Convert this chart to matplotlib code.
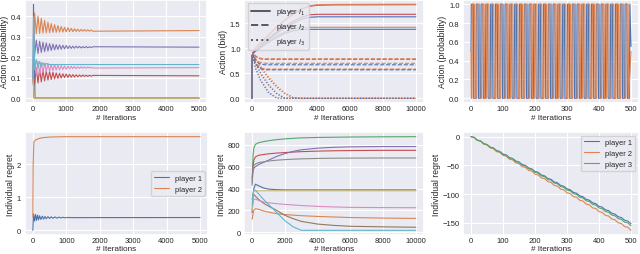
import matplotlib
matplotlib.use("Agg")
import matplotlib.pyplot as plt
import seaborn as sns

# ---- top-left: action probabilities (5000 iterations) ----
t_osc = [0, 50, 100, 150, 200, 250, 300, 350, 400, 450, 500, 550, 600, 650, 700,
         750, 800, 850, 900, 950, 1000, 1050, 1100, 1150, 1200, 1250, 1300, 1350,
         1400, 1450, 1500, 1550, 1600, 1650, 1700, 1750, 1800, 5000]
p_orange = [0.10, 0.417, 0.316, 0.402, 0.317, 0.391, 0.319, 0.381, 0.320, 0.372,
            0.321, 0.365, 0.322, 0.360, 0.323, 0.355, 0.324, 0.351, 0.324, 0.347,
            0.325, 0.345, 0.326, 0.342, 0.326, 0.340, 0.327, 0.338, 0.327, 0.337,
            0.328, 0.336, 0.328, 0.335, 0.328, 0.334, 0.328, 0.331]
p_purple = [0.10, 0.213, 0.284, 0.219, 0.279, 0.224, 0.274, 0.228, 0.271, 0.231,
            0.267, 0.234, 0.265, 0.237, 0.262, 0.239, 0.261, 0.240, 0.259, 0.242,
            0.258, 0.243, 0.256, 0.244, 0.255, 0.245, 0.255, 0.246, 0.254, 0.246,
            0.253, 0.247, 0.253, 0.247, 0.252, 0.248, 0.252, 0.250]
p_pink = [0.10, 0.187, 0.116, 0.181, 0.121, 0.176, 0.126, 0.172, 0.130, 0.169,
          0.133, 0.166, 0.135, 0.164, 0.138, 0.162, 0.139, 0.160, 0.141, 0.158,
          0.142, 0.157, 0.144, 0.156, 0.145, 0.155, 0.145, 0.154, 0.146, 0.154,
          0.147, 0.153, 0.147, 0.153, 0.148, 0.152, 0.148, 0.150]
p_red = [0.10, 0.069, 0.148, 0.075, 0.142, 0.080, 0.137, 0.085, 0.133, 0.089,
         0.130, 0.092, 0.127, 0.095, 0.124, 0.097, 0.122, 0.099, 0.120, 0.101,
         0.119, 0.102, 0.117, 0.103, 0.116, 0.104, 0.115, 0.105, 0.114, 0.106,
         0.114, 0.107, 0.113, 0.107, 0.113, 0.108, 0.112, 0.110]
t_blue1 = [0, 15, 60, 5000]
p_blue = [0.10, 0.46, 0.0, 0.0]
t_zero = [0, 40, 5000]
p_zero = [0.10, 0.0, 0.0]
t_cyan = [0, 20, 50, 100, 150, 200, 250, 300, 350, 400, 500, 5000]
p_cyan = [0.10, 0.40, 0.14, 0.19, 0.15, 0.18, 0.155, 0.173, 0.16, 0.17, 0.165, 0.165]

# ---- top-middle: bids ----
t_bid_s = [0, 1, 50, 200, 500, 1000, 1500, 2000, 2500, 3000, 3500, 4000, 5000, 10000]
bid_s = {
    "C3a": [0, 0.85, 0.92, 1.00, 1.10, 1.26, 1.42, 1.56, 1.68, 1.78, 1.84, 1.862, 1.868, 1.872],
    "C1a": [0, 0.85, 0.92, 1.00, 1.11, 1.27, 1.43, 1.57, 1.69, 1.79, 1.85, 1.872, 1.878, 1.882],
    "C3b": [0, 0.85, 0.90, 0.95, 1.05, 1.20, 1.33, 1.44, 1.54, 1.62, 1.67, 1.680, 1.680, 1.680],
    "C0b": [0, 0.85, 0.90, 0.95, 1.04, 1.18, 1.30, 1.41, 1.50, 1.58, 1.62, 1.630, 1.630, 1.630],
    "C1c": [0, 0.85, 0.90, 0.95, 1.03, 1.15, 1.25, 1.33, 1.39, 1.42, 1.42, 1.420, 1.420, 1.420],
    "C0c": [0, 0.85, 0.90, 0.94, 1.01, 1.12, 1.22, 1.30, 1.35, 1.38, 1.38, 1.380, 1.380, 1.380],
}
t_bid_d = [0, 1, 50, 100, 200, 400, 600, 800, 1000, 10000]
bid_d = {
    "C3a": [0, 0.85, 0.90, 0.88, 0.84, 0.80, 0.785, 0.78, 0.78, 0.78],
    "C1a": [0, 0.85, 0.90, 0.88, 0.85, 0.81, 0.795, 0.79, 0.79, 0.79],
    "C1b": [0, 0.85, 0.88, 0.85, 0.79, 0.73, 0.71, 0.70, 0.70, 0.70],
    "C0b": [0, 0.85, 0.88, 0.84, 0.77, 0.70, 0.68, 0.67, 0.67, 0.67],
    "C1c": [0, 0.85, 0.86, 0.80, 0.71, 0.63, 0.60, 0.59, 0.585, 0.585],
    "C0c": [0, 0.85, 0.86, 0.79, 0.70, 0.61, 0.58, 0.57, 0.57, 0.57],
}
t_bid_o = [0, 1, 50, 200, 500, 1000, 1500, 2000, 2500, 3000, 10000]
bid_o = {
    "C3a": [0, 0.85, 0.88, 0.78, 0.62, 0.40, 0.22, 0.09, 0.01, 0.0, 0.0],
    "C1a": [0, 0.85, 0.88, 0.80, 0.65, 0.43, 0.25, 0.11, 0.02, 0.0, 0.0],
    "C1b": [0, 0.85, 0.86, 0.72, 0.52, 0.28, 0.10, 0.01, 0.0, 0.0, 0.0],
    "C0b": [0, 0.85, 0.86, 0.70, 0.50, 0.26, 0.09, 0.0, 0.0, 0.0, 0.0],
    "C1c": [0, 0.85, 0.84, 0.62, 0.38, 0.13, 0.01, 0.0, 0.0, 0.0, 0.0],
    "C0c": [0, 0.85, 0.84, 0.60, 0.36, 0.11, 0.0, 0.0, 0.0, 0.0, 0.0],
}

# ---- top-right: cycling probabilities (flip times) ----
blue_flips = [7, 15, 22, 30, 37, 45, 52, 60, 67, 75, 82, 90, 97, 105, 112, 120, 127,
              135, 142, 150, 157, 165, 172, 180, 187, 195, 202, 210, 217, 225, 232,
              240, 247, 255, 262, 270, 277, 285, 292, 300, 307, 315, 322, 330, 337,
              345, 352, 360, 367, 375, 382, 390, 397, 405, 412, 420, 427, 435, 442,
              450, 457, 465, 472, 480, 487, 495]
orange_flips = [3, 11, 18, 26, 33, 41, 48, 56, 63, 71, 78, 86, 93, 101, 108, 116, 123,
                131, 138, 146, 153, 161, 168, 176, 183, 191, 198, 206, 213, 221, 228,
                236, 243, 251, 258, 266, 273, 281, 288, 296, 303, 311, 318, 326, 333,
                341, 348, 356, 363, 371, 378, 386, 393, 401, 408, 416, 423, 431, 438,
                446, 453, 461, 468, 476, 483, 491]

# ---- bottom-left: regret, 2 players ----
t_reg2_or = [0, 10, 30, 60, 100, 200, 300, 500, 1000, 5000]
reg2_orange = [0.40, 2.00, 2.68, 2.72, 2.75, 2.79, 2.81, 2.83, 2.84, 2.84]
t_reg2_bl = [0, 20, 50, 80, 110, 140, 170, 200, 240, 280, 320, 360, 400, 450, 500,
             550, 600, 660, 720, 780, 840, 900, 960, 1050, 1150, 5000]
reg2_blue = [0.0, 0.50, 0.28, 0.48, 0.30, 0.46, 0.32, 0.44, 0.33, 0.43, 0.34, 0.42,
             0.35, 0.415, 0.36, 0.41, 0.365, 0.405, 0.37, 0.40, 0.375, 0.395, 0.38,
             0.39, 0.385, 0.388]

# ---- bottom-middle: regret, 10 players ----
t_reg10 = [0, 50, 100, 200, 400, 700, 1000, 1500, 2000, 2500, 3000, 4000, 5000, 6000, 8000, 10000]
reg10 = [
    [180, 330, 400, 440, 425, 405, 395, 390, 388, 388, 388, 388, 388, 388, 388, 388],
    [120, 170, 200, 215, 210, 195, 185, 170, 162, 157, 152, 145, 140, 135, 130, 127],
    [450, 700, 770, 805, 820, 830, 838, 848, 855, 860, 864, 868, 870, 872, 874, 875],
    [500, 600, 660, 690, 705, 712, 718, 725, 730, 734, 738, 743, 746, 748, 750, 750],
    [480, 560, 585, 600, 620, 640, 660, 695, 720, 740, 755, 770, 778, 782, 785, 785],
    [300, 340, 345, 330, 300, 265, 240, 200, 155, 125, 100, 75, 63, 55, 50, 46],
    [200, 270, 300, 305, 290, 278, 270, 262, 255, 250, 245, 237, 232, 228, 226, 225],
    [430, 580, 610, 625, 638, 645, 652, 660, 665, 669, 672, 676, 678, 679, 680, 680],
    [200, 350, 375, 380, 380, 380, 380, 380, 380, 380, 380, 380, 380, 380, 380, 380],
    [250, 350, 390, 385, 350, 300, 255, 180, 106, 50, 18, 18, 18, 18, 18, 18],
]

# ---- bottom-right: regret, 3 players (every 10 iterations) ----
t_reg3 = [0, 10, 20, 30, 40, 50, 60, 70, 80, 90, 100, 110, 120, 130, 140, 150, 160,
          170, 180, 190, 200, 210, 220, 230, 240, 250, 260, 270, 280, 290, 300, 310,
          320, 330, 340, 350, 360, 370, 380, 390, 400, 410, 420, 430, 440, 450, 460,
          470, 480, 490, 500]
reg3_blue = [0, -1.5, -6.1, -7.6, -12.1, -13.7, -18.2, -19.7, -24.2, -25.8, -30.3,
             -31.8, -36.4, -37.9, -42.4, -44.0, -48.5, -50.0, -54.5, -56.1, -60.6,
             -62.1, -66.7, -68.2, -72.7, -74.3, -78.8, -80.3, -84.8, -86.4, -90.9,
             -92.4, -97.0, -98.5, -103.0, -104.6, -109.1, -110.6, -115.1, -116.7,
             -121.2, -122.7, -127.3, -128.8, -133.3, -134.9, -139.4, -140.9, -145.4,
             -147.0, -151.5]
reg3_orange = [0, -1.3, -6.5, -7.8, -13.0, -14.3, -19.6, -20.8, -26.1, -27.3, -32.6,
               -33.9, -39.1, -40.4, -45.6, -46.9, -52.2, -53.4, -58.7, -59.9, -65.2,
               -66.5, -71.7, -73.0, -78.2, -79.5, -84.8, -86.0, -91.3, -92.5, -97.8,
               -99.1, -104.3, -105.6, -110.8, -112.1, -117.4, -118.6, -123.9, -125.1,
               -130.4, -131.7, -136.9, -138.2, -143.4, -144.7, -150.0, -151.2, -156.5,
               -157.7, -163.0]
reg3_green = [0, -1.3, -6.2, -7.5, -12.4, -13.7, -18.6, -19.9, -24.8, -26.1, -31.0,
              -32.3, -37.2, -38.5, -43.4, -44.7, -49.6, -50.9, -55.8, -57.1, -62.0,
              -63.3, -68.2, -69.5, -74.4, -75.7, -80.6, -81.9, -86.8, -88.1, -93.0,
              -94.3, -99.2, -100.5, -105.4, -106.7, -111.6, -112.9, -117.8, -119.1,
              -124.0, -125.3, -130.2, -131.5, -136.4, -137.7, -142.6, -143.9, -148.8,
              -150.1, -155.0]


def square_path(start_level, flips, t_end, end_value):
    xs, ys = [0, 1], [0.5, start_level]
    level = start_level
    for f in flips:
        xs += [f, f + 1.5]
        ys += [level, 1 - level]
        level = 1 - level
    xs.append(t_end)
    ys.append(end_value)
    return xs, ys


sns.set_theme(style="darkgrid", palette="deep")
plt.rcParams["font.family"] = ["Liberation Sans", "DejaVu Sans"]
plt.rcParams["xtick.labelsize"] = 5.5
plt.rcParams["ytick.labelsize"] = 5.5
plt.rcParams["axes.labelsize"] = 5.9
plt.rcParams["legend.fontsize"] = 5.4
for a in ("xtick", "ytick"):
    plt.rcParams[a + ".major.size"] = 0
    plt.rcParams[a + ".minor.size"] = 0
plt.rcParams["xtick.major.pad"] = 1.5
plt.rcParams["ytick.major.pad"] = 2.5
plt.rcParams["axes.labelpad"] = 1.2
plt.rcParams["grid.linewidth"] = 0.8

pal = sns.color_palette("deep")
cmap = {"C%d" % i: pal[i] for i in range(10)}
lw = 0.8
ylab_size = 6.2

fig = plt.figure(figsize=(6.4, 2.55), dpi=100)
W, H = 640.0, 255.0


def add_ax(l, r, t, b):
    return fig.add_axes([l / W, 1 - b / H, (r - l) / W, (b - t) / H])


# top-left
ax = add_ax(24.7, 207.3, 0.5, 104)
ax.plot(t_blue1, p_blue, color=pal[0], lw=lw)
ax.plot(t_osc, p_orange, color=pal[1], lw=lw)
ax.plot(t_zero, p_zero, color=pal[2], lw=lw)
ax.plot(t_osc, p_red, color=pal[3], lw=lw)
ax.plot(t_osc, p_purple, color=pal[4], lw=lw)
ax.plot(t_zero, p_zero, color=pal[5], lw=lw)
ax.plot(t_osc, p_pink, color=pal[6], lw=lw)
ax.plot(t_zero, p_zero, color=pal[7], lw=lw)
ax.plot(t_zero, p_zero, color=pal[8], lw=lw)
ax.plot(t_cyan, p_cyan, color=pal[9], lw=lw)
ax.set_xlabel("# Iterations")
ax.set_ylabel("Action (probability)", fontsize=ylab_size)

# top-middle
ax = add_ax(244, 424, 0.5, 104)
for key, vals in bid_s.items():
    ax.plot(t_bid_s, vals, color=cmap[key[:2]], lw=lw, ls="-")
for key, vals in bid_d.items():
    ax.plot(t_bid_d, vals, color=cmap[key[:2]], lw=lw, ls="--")
for key, vals in bid_o.items():
    ax.plot(t_bid_o, vals, color=cmap[key[:2]], lw=lw, ls=":")
handles = [plt.Line2D([], [], color="0.35", lw=1.4, ls=s) for s in ["-", "--", ":"]]
ax.legend(handles, ["player $i_1$", "player $i_2$", "player $i_3$"], loc="upper left",
          handlelength=2.6)
ax.set_yticks([0.0, 0.5, 1.0, 1.5])
ax.set_xlabel("# Iterations")
ax.set_ylabel("Action (bid)", fontsize=ylab_size)

# top-right
ax = add_ax(463, 639, 0.5, 104)
bx, by = square_path(1.0, blue_flips, 500, 0.55)
ox, oy = square_path(0.0, orange_flips, 500, 0.5)
ax.plot(bx, by, color=pal[0], lw=lw)
ax.plot(ox, oy, color=pal[1], lw=lw)
ax.set_xlabel("# Iterations")
ax.set_ylabel("Action (probability)", fontsize=ylab_size)

# bottom-left
ax = add_ax(24.5, 208.4, 133, 236)
ax.plot(t_reg2_bl, reg2_blue, color=pal[0], lw=lw, label="player 1")
ax.plot(t_reg2_or, reg2_orange, color=pal[1], lw=lw, label="player 2")
ax.legend(loc="center right")
ax.set_xlabel("# Iterations", labelpad=0.8)
ax.set_ylabel("Individual regret", fontsize=ylab_size)

# bottom-middle
ax = add_ax(244, 424, 133, 236)
for i, vals in enumerate(reg10):
    ax.plot(t_reg10, vals, color=pal[i], lw=lw)
ax.set_xlabel("# Iterations", labelpad=0.8)
ax.set_ylabel("Individual regret", fontsize=ylab_size)

# bottom-right
ax = add_ax(463, 639, 133, 236)
ax.plot(t_reg3, reg3_blue, color=pal[0], lw=lw, label="player 1")
ax.plot(t_reg3, reg3_orange, color=pal[1], lw=lw, label="player 2")
ax.plot(t_reg3, reg3_green, color=pal[2], lw=lw, label="player 3")
ax.legend(loc="upper right")
ax.set_xlabel("# Iterations", labelpad=0.8)
ax.set_ylabel("Individual regret", fontsize=ylab_size)

fig.savefig("out.png", dpi=100)
